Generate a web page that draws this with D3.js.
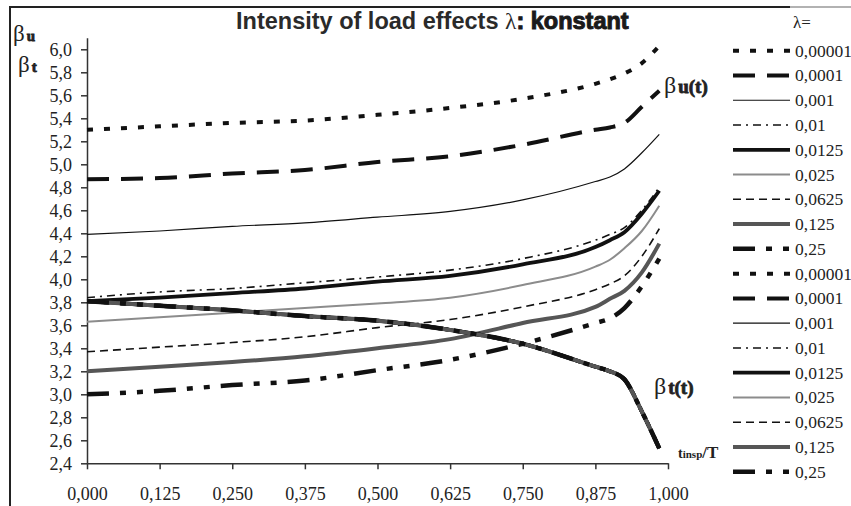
<!DOCTYPE html>
<html>
<head>
<meta charset="utf-8">
<script src="https://cdn.jsdelivr.net/npm/d3@7"></script>
<style>
  body { margin: 0; background: #fff; }
  svg { display: block; }
  .tick text { font-family: "Liberation Serif", "Times New Roman", "DejaVu Serif", serif; font-size: 18px; fill: #222; }
</style>
</head>
<body>
<div id="chart"></div>
<script>
// time axis (t_insp / T) at which values were read
var tValues = [0, 0.125, 0.25, 0.375, 0.5, 0.625, 0.75, 0.875, 0.9, 0.925, 0.955, 0.985];

// legend labels for lambda
var lambdaLabels = ["0,00001", "0,0001", "0,001", "0,01", "0,0125", "0,025", "0,0625", "0,125", "0,25"];

// beta_u(t) curves, one per lambda
var betaU_00001 = [5.30, 5.33, 5.36, 5.38, 5.43, 5.49, 5.57, 5.70, 5.74, 5.79, 5.88, 6.03];
var betaU_0001  = [4.87, 4.88, 4.92, 4.95, 5.02, 5.07, 5.17, 5.30, 5.32, 5.36, 5.50, 5.64];
var betaU_001   = [4.39, 4.42, 4.46, 4.49, 4.54, 4.59, 4.69, 4.85, 4.89, 4.96, 5.10, 5.26];
var betaU_01    = [3.84, 3.89, 3.92, 3.97, 4.02, 4.08, 4.18, 4.34, 4.39, 4.45, 4.60, 4.80];
var betaU_0125  = [3.81, 3.84, 3.88, 3.92, 3.98, 4.03, 4.13, 4.28, 4.34, 4.41, 4.57, 4.77];
var betaU_025   = [3.63, 3.67, 3.71, 3.75, 3.79, 3.84, 3.95, 4.11, 4.17, 4.27, 4.42, 4.64];
var betaU_0625  = [3.37, 3.41, 3.45, 3.50, 3.58, 3.65, 3.76, 3.91, 3.96, 4.03, 4.20, 4.44];
var betaU_125   = [3.20, 3.24, 3.28, 3.33, 3.40, 3.48, 3.62, 3.76, 3.83, 3.90, 4.06, 4.31];
var betaU_25    = [3.00, 3.03, 3.08, 3.12, 3.21, 3.30, 3.44, 3.62, 3.66, 3.75, 3.94, 4.18];

// beta_t(t): all lambda values give the same curve
var betaT = [3.81, 3.77, 3.73, 3.68, 3.64, 3.56, 3.44, 3.24, 3.20, 3.13, 2.85, 2.53];

// tick labels
var yTicks = [2.4, 2.6, 2.8, 3.0, 3.2, 3.4, 3.6, 3.8, 4.0, 4.2, 4.4, 4.6, 4.8, 5.0, 5.2, 5.4, 5.6, 5.8, 6.0];
var xTicks = [0, 0.125, 0.25, 0.375, 0.5, 0.625, 0.75, 0.875, 1];

// line styles, one per lambda (same for beta_u and beta_t)
var styles = [
    { color: "#111", width: 4, dash: "6,11" },
    { color: "#111", width: 4, dash: "22,12" },
    { color: "#111", width: 1.2, dash: null },
    { color: "#111", width: 1.6, dash: "8,5,2,5" },
    { color: "#111", width: 3.8, dash: null },
    { color: "#8c8c8c", width: 2, dash: null },
    { color: "#111", width: 1.6, dash: "8,5" },
    { color: "#565656", width: 4, dash: null },
    { color: "#111", width: 4.5, dash: "22,11,6,11,6,11" }
];

var serif = "'Liberation Serif', 'Times New Roman', 'DejaVu Serif', serif";

var uSeries = [betaU_00001, betaU_0001, betaU_001, betaU_01, betaU_0125, betaU_025, betaU_0625, betaU_125, betaU_25];

var series = [];
uSeries.forEach(function (vals, i) {
    series.push({ label: lambdaLabels[i], style: styles[i], values: vals });
});
lambdaLabels.forEach(function (lab, i) {
    series.push({ label: lab, style: styles[i], values: betaT });
});

var svgWidth = 851;
var svgHeight = 506;

var svg = d3.select("#chart")
    .append("svg")
    .attr("width", svgWidth)
    .attr("height", svgHeight);

// scales
var xScale = d3.scaleLinear().domain([0, 1]).range([87, 668]);
var yScale = d3.scaleLinear().domain([2.4, 6.1]).range([463.3, 37.8]);

var comma = function (f) {
    return function (d) { return d3.format(f)(d).replace(".", ","); };
};

// chart frame
svg.append("line")
    .attr("x1", 10).attr("y1", 7).attr("x2", 10).attr("y2", svgHeight)
    .attr("stroke", "#222").attr("stroke-width", 2);
svg.append("line")
    .attr("x1", 9).attr("y1", 7).attr("x2", 790).attr("y2", 7)
    .attr("stroke", "#222").attr("stroke-width", 2);
svg.append("line")
    .attr("x1", 790).attr("y1", 7).attr("x2", svgWidth).attr("y2", 7)
    .attr("stroke", "#999").attr("stroke-width", 1.5);

// y axis
var yAxis = d3.axisLeft(yScale)
    .tickValues(yTicks)
    .tickFormat(comma(".1f"))
    .tickSize(6)
    .tickSizeOuter(0)
    .tickPadding(9);

var yG = svg.append("g")
    .attr("transform", "translate(87,0)")
    .call(yAxis);
yG.attr("font-family", serif).attr("font-size", 18);
yG.select(".domain").attr("stroke", "#333").attr("stroke-width", 1.5);
yG.selectAll(".tick line").attr("stroke", "#333").attr("stroke-width", 1.5);

// x axis
var xAxis = d3.axisBottom(xScale)
    .tickValues(xTicks)
    .tickFormat(comma(".3f"))
    .tickSize(6)
    .tickSizeOuter(0)
    .tickPadding(18);

var xG = svg.append("g")
    .attr("transform", "translate(0," + yScale(2.4) + ")")
    .call(xAxis);
xG.attr("font-family", serif).attr("font-size", 18);
xG.select(".domain").attr("stroke", "#333").attr("stroke-width", 1.5);
xG.selectAll(".tick line").attr("stroke", "#333").attr("stroke-width", 1.5);

// curves
var line = d3.line()
    .x(function (d, i) { return xScale(tValues[i]); })
    .y(function (d) { return yScale(d); })
    .curve(d3.curveMonotoneX);

svg.selectAll(".curve")
    .data(series)
    .enter()
    .append("path")
    .attr("class", "curve")
    .attr("d", function (d) { return line(d.values); })
    .attr("fill", "none")
    .attr("stroke", function (d) { return d.style.color; })
    .attr("stroke-width", function (d) { return d.style.width; })
    .attr("stroke-dasharray", function (d) { return d.style.dash; })
    .attr("stroke-linejoin", "round");

// legend
var legend = svg.append("g");

legend.append("text")
    .attr("x", 793)
    .attr("y", 28)
    .attr("font-family", serif)
    .attr("font-size", 17)
    .attr("fill", "#222")
    .text("λ=");

var rows = legend.selectAll(".row")
    .data(series)
    .enter()
    .append("g")
    .attr("transform", function (d, i) { return "translate(0," + (50.7 + i * 24.77) + ")"; });

rows.append("line")
    .attr("x1", 733).attr("x2", 790)
    .attr("y1", 0).attr("y2", 0)
    .attr("stroke", function (d) { return d.style.color; })
    .attr("stroke-width", function (d) { return d.style.width; })
    .attr("stroke-dasharray", function (d) { return d.style.dash; });

rows.append("text")
    .attr("x", 795)
    .attr("y", 6)
    .attr("font-family", serif)
    .attr("font-size", 17.5)
    .attr("fill", "#222")
    .text(function (d) { return d.label; });

// title
var title = svg.append("text")
    .attr("x", 236)
    .attr("y", 29)
    .attr("font-family", "'Liberation Sans', Arial, sans-serif")
    .attr("font-size", 23.5)
    .attr("font-weight", "bold")
    .attr("fill", "#2a2a2a");
title.append("tspan").text("Intensity of load effects ");
title.append("tspan")
    .attr("font-family", serif)
    .attr("font-weight", "normal")
    .text("λ");
title.append("tspan")
    .attr("stroke", "#1a1a1a")
    .attr("stroke-width", 1)
    .attr("fill", "#1a1a1a")
    .text(": konstant");

// axis labels beta_u / beta_t
function betaLabel(x, y, sub, size, subSize) {
    var t = svg.append("text")
        .attr("x", x)
        .attr("y", y)
        .attr("fill", "#222");
    t.append("tspan")
        .attr("font-family", serif)
        .attr("font-size", size)
        .text("β");
    t.append("tspan")
        .attr("font-family", serif)
        .attr("font-weight", "bold")
        .attr("font-size", subSize)
        .attr("dx", 2)
        .attr("stroke", "#222")
        .attr("stroke-width", 0.8)
        .text(sub);
    return t;
}

betaLabel(13, 41, "u", 23, 15);
betaLabel(18, 72, "t", 23, 15);
betaLabel(664, 93, "u(t)", 24, 19);
betaLabel(654, 394, "t(t)", 24, 19);

// x axis unit
var tl = svg.append("text")
    .attr("x", 678)
    .attr("y", 458)
    .attr("font-family", serif)
    .attr("font-weight", "bold")
    .attr("fill", "#222");
tl.append("tspan").attr("font-size", 14).text("t");
tl.append("tspan").attr("font-size", 11).text("insp");
tl.append("tspan").attr("font-size", 17).text("/T");
</script>
</body>
</html>
